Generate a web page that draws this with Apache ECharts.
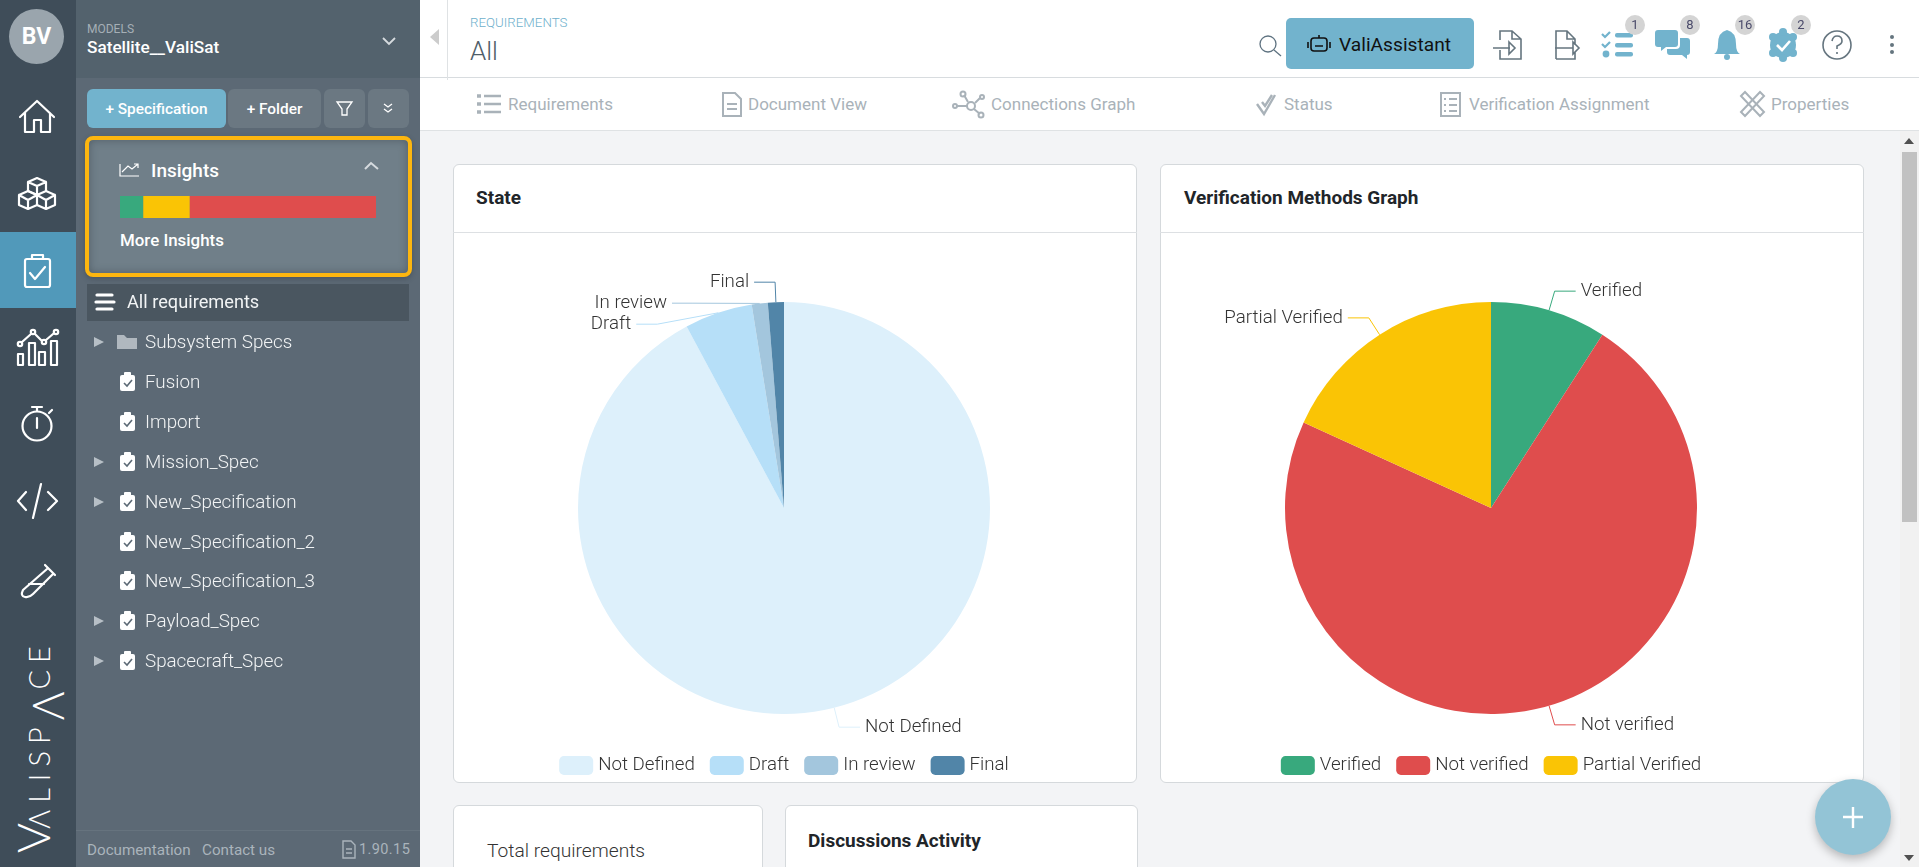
<!DOCTYPE html>
<html>
<head>
<meta charset="utf-8">
<title>Requirements</title>
<script src="https://cdn.jsdelivr.net/npm/echarts@6/dist/echarts.min.js"></script>
<style>
html,body{margin:0;padding:0;width:1919px;height:867px;overflow:hidden;background:#f3f4f6;font-family:Roboto,sans-serif;}
.a{position:absolute;white-space:nowrap;}
.c{display:flex;align-items:center;justify-content:center;}
svg{position:absolute;overflow:visible;fill:none;}
.card{position:absolute;background:#fff;border:1px solid #d5d9dc;border-radius:6px;box-sizing:border-box;}
.tab{position:absolute;top:94px;font-size:17px;line-height:20px;color:#a9b2b9;white-space:nowrap;}
.row{position:absolute;left:145px;font-size:18.8px;line-height:22px;color:#f2f4f5;white-space:nowrap;font-weight:300;}
.badge{position:absolute;top:15px;width:20px;height:20px;border-radius:10px;background:#d4d4d4;color:#4a4a6a;font-size:13px;line-height:20px;text-align:center;}
.title{position:absolute;font-size:19px;line-height:22px;font-weight:700;color:#212529;white-space:nowrap;}
#logo span{line-height:0;}
</style>
</head>
<body>
<!-- left rail -->
<div class="a" style="left:0;top:0;width:76px;height:867px;background:#3f4d59"></div>
<div class="a" style="left:0;top:232px;width:76px;height:76px;background:#5199ba"></div>
<div class="a c" style="left:9px;top:9px;width:55px;height:55px;border-radius:50%;background:#9aa5ad;color:#fff;font-weight:700;font-size:23px">BV</div>
<svg style="left:0;top:0" width="76" height="620" stroke="#fff" stroke-width="2.2" stroke-linejoin="round" stroke-linecap="round">
  <path d="M20 117 L37 101 L54 117 M25 113 V132 H34 V120 H41 V132 H50 V113"/>
  <path d="M37 178 L46 182 V191 L37 195 L28 191 V182 Z M28 182 L37 186 L46 182 M37 186 V195"/>
  <path d="M28 191 L37 195 V205 L28 209 L19 205 V195 Z M19 195 L28 200 L37 195 M28 200 V209"/>
  <path d="M46 191 L55 195 V205 L46 209 L37 205 M37 195 L46 200 L55 195 M46 200 V209"/>
  <rect x="25" y="259" width="25" height="28" rx="2"/><path d="M32 259 V255 H43 V259 M30 273 L35 279 L45 267"/>
  <path d="M18 354 H23 V365 H18 Z M29 343 H35 V365 H29 Z M39 352 H45 V365 H39 Z M51 341 H57 V365 H51 Z"/>
  <path d="M22 342 L31 334 M35 334 L41 340 M46 340 L53 334"/>
  <circle cx="20" cy="344" r="2.2"/><circle cx="33" cy="332" r="2.2"/><circle cx="44" cy="342" r="2.2"/><circle cx="56" cy="332" r="2.2"/>
  <circle cx="37" cy="426" r="14.5"/><path d="M37 418 V428 M32 407 H42 M37 407 V411 M49 413 L52 410"/>
  <path d="M26 492 L18 501 L26 510 M48 492 L57 501 L48 510 M41 484 L33 518"/>
  <path d="M45 565 L55 575 M47 569 L23 590 Q20 596 25 597 Q29 598 33 594 L53 574 M29 584 L44 584"/>
</svg>
<div class="a" id="logo" style="left:9px;top:853px;height:60px;line-height:60px;transform-origin:0 0;transform:rotate(-90deg);color:#fff;font-family:Lato,sans-serif;font-weight:300;font-size:29px;letter-spacing:7px"><span style="font-size:46px;letter-spacing:-6px">V</span><span>Λ</span>LISP<span style="font-size:44px;vertical-align:-14px;letter-spacing:2px">Λ</span>CE</div>

<!-- model panel -->
<div class="a" style="left:76px;top:0;width:344px;height:867px;background:#5c6975"></div>
<div class="a" style="left:76px;top:0;width:344px;height:78px;background:#53626d"></div>
<div class="a" style="left:87px;top:22px;font-size:12px;color:#a5afb6">MODELS</div>
<div class="a" style="left:87px;top:37px;font-size:17.2px;font-weight:500;color:#fff">Satellite__ValiSat</div>
<svg style="left:0;top:0" stroke="#d6dbdf" stroke-width="1.8"><path d="M383 38 L389 44 L395 38"/></svg>
<div class="a c" style="left:87px;top:89px;width:139px;height:39px;background:#72b3cd;border-radius:6px;color:#fff;font-size:15.4px;font-weight:500">+ Specification</div>
<div class="a c" style="left:228px;top:89px;width:93px;height:39px;background:#6b7882;border-radius:6px;color:#fff;font-size:15.4px;font-weight:500">+ Folder</div>
<div class="a" style="left:324px;top:89px;width:41px;height:39px;background:#6b7882;border-radius:6px"></div>
<div class="a" style="left:368px;top:89px;width:41px;height:39px;background:#6b7882;border-radius:6px"></div>
<svg style="left:0;top:0" stroke="#fff" stroke-width="1.3"><path d="M337 102 H352 L347 109 V115 L342 115 V109 Z"/><path d="M384 104 L388 107 L392 104 M384 109 L388 112 L392 109"/></svg>
<!-- insights box -->
<div class="a" style="left:85px;top:136px;width:327px;height:141px;box-sizing:border-box;border:4px solid #fdb60f;border-radius:8px;background:#707f89;box-shadow:inset 0 0 8px rgba(50,60,70,.5),0 2px 5px rgba(40,50,60,.35)"></div>
<svg style="left:0;top:0" stroke="#fff" stroke-width="1.2"><path d="M120 164 V176 H139 M122 172 L128 166 L132 169 L138 164 M134 164 H138 V168"/><path d="M365 169 L371 163 L378 169" stroke-width="2" stroke="#d6dbdf"/></svg>
<div class="a" style="left:151px;top:160px;font-size:19px;line-height:22px;font-weight:500;color:#fff">Insights</div>
<div class="a" id="insightBar" style="left:120px;top:196px;width:256px;height:22px"></div>
<div class="a" style="left:120px;top:231px;font-size:16.9px;line-height:19px;font-weight:500;color:#fff">More Insights</div>
<!-- tree -->
<div class="a" style="left:87px;top:284px;width:322px;height:37px;background:#4a5660"></div>
<svg style="left:0;top:0" stroke="#fff" stroke-width="3.2" stroke-linecap="round"><path d="M97 295 H112 M96 302 H114 M97 309 H112"/></svg>
<div class="row" style="left:127px;top:291px;font-weight:400;font-size:18.2px">All requirements</div>
<div id="tree"></div>
<div class="a" style="left:76px;top:830px;width:344px;height:1px;background:#66737e"></div>
<div class="a" style="left:87px;top:841px;font-size:15.2px;color:#aab4bc">Documentation</div>
<div class="a" style="left:202px;top:841px;font-size:15.2px;color:#aab4bc">Contact us</div>
<svg style="left:0;top:0" stroke="#aab4bc" stroke-width="1.4"><path d="M343 841 H351 L355 845 V858 H343 Z M346 849 H352 M346 853 H352"/></svg>
<div class="a" style="left:359px;top:841px;font-size:14.5px;letter-spacing:.4px;color:#aab4bc">1.90.15</div>

<!-- top bar -->
<div class="a" style="left:420px;top:0;width:1499px;height:130px;background:#fff"></div>
<div class="a" style="left:420px;top:77px;width:1499px;height:1px;background:#d8dcdf"></div>
<div class="a" style="left:420px;top:130px;width:1499px;height:1px;background:#dfe2e4"></div>
<div class="a" style="left:447px;top:0;width:1px;height:80px;background:#dfe2e4"></div>
<svg style="left:0;top:0"><path d="M439 29 V45 L430 37 Z" fill="#cccccc"/></svg>
<div class="a" style="left:470px;top:15px;font-size:13.3px;font-weight:300;color:#6eb0cc">REQUIREMENTS</div>
<div class="a" style="left:470px;top:36px;font-size:26px;font-weight:300;color:#4f5d69">All</div>
<div class="tab" style="left:508px">Requirements</div>
<div class="tab" style="left:748px">Document View</div>
<div class="tab" style="left:991px">Connections Graph</div>
<div class="tab" style="left:1284px">Status</div>
<div class="tab" style="left:1469px">Verification Assignment</div>
<div class="tab" style="left:1771px">Properties</div>
<svg style="left:0;top:0" stroke="#a9b2b9" stroke-width="2"><path d="M484 96 H501 M484 104 H501 M484 112 H501" stroke-width="2.6"/><path d="M477 96 H481 M477 104 H481 M477 112 H481" stroke-width="3.4"/>
  <path d="M723 93 H735 L741 99 V116 H723 Z M727 104 H737 M727 109 H737"/>
  <circle cx="971" cy="106" r="4"/><path d="M974 109 L980 114 M968 102 L964 95 M975 103 L980 98 M967 106 L957 106"/><circle cx="963" cy="94" r="2.5"/><circle cx="982" cy="97" r="2"/><circle cx="955" cy="106" r="2"/><circle cx="981" cy="115" r="2.5"/>
  <path d="M1257 104 L1264 114 L1275 95 M1262 102 L1265 106 L1272 95" stroke-width="2.4"/>
  <rect x="1441" y="93" width="19" height="23"/><path d="M1444 99 H1446 M1449 99 H1457 M1444 105 H1446 M1449 105 H1457 M1444 111 H1446 M1449 111 H1457"/>
  <path d="M1741 96 L1745 92 L1764 112 L1760 116 Z M1764 96 L1760 92 L1741 112 L1745 116 Z"/></svg>
<svg style="left:0;top:0" stroke="#5e7280" stroke-width="1.3"><circle cx="1268" cy="44" r="8"/><path d="M1274 50 L1281 56"/></svg>
<div class="a" style="left:1286px;top:18px;width:188px;height:51px;background:#72b3cd;border-radius:5px"></div>
<svg style="left:0;top:0" stroke="#111" stroke-width="1.6"><rect x="1311" y="38" width="16" height="13" rx="3"/><path d="M1319 38 V35 M1308 42 V48 M1330 42 V48 M1315 46 H1323"/></svg>
<div class="a" style="left:1339px;top:33px;font-size:19.2px;color:#111">ValiAssistant</div>
<svg style="left:0;top:0" stroke="#65757f" stroke-width="1.6">
  <path d="M1500 40 V31 H1512 L1521 39 V59 H1500 V50 M1512 31 V39 H1521 M1493 48 H1510 M1509 42 L1515 48 L1509 54 Z"/>
  <path d="M1556 59 V31 H1567 L1575 39 V45 M1567 31 V39 H1575 M1575 52 V59 H1556 M1555 48 H1573 M1573 42 L1579 48 L1573 54 Z"/>
  <circle cx="1837" cy="45" r="14"/><path d="M1832 41 Q1833 36 1837 36 Q1842 36 1842 41 Q1842 44 1837 46 V49 M1837 52 V54"/>
</svg>
<svg style="left:0;top:0;fill:#72b3cd">
  <path d="M1602 34 L1605 37 L1610 32 M1602 44 L1605 47 L1610 42" stroke="#72b3cd" stroke-width="2.2" fill="none"/><circle cx="1606" cy="54" r="3.4"/>
  <rect x="1615" y="33" width="18" height="4.5" rx="2"/><rect x="1615" y="43" width="18" height="4.5" rx="2"/><rect x="1615" y="52" width="18" height="4.5" rx="2"/>
  <path d="M1658 30 H1675 Q1678 30 1678 33 V44 Q1678 47 1675 47 H1666 L1661 51 V47 H1658 Q1655 47 1655 44 V33 Q1655 30 1658 30 Z"/>
  <path d="M1680 38 H1687 Q1690 38 1690 41 V52 Q1690 55 1687 55 V59 L1682 55 H1670 Q1667 55 1667 52 V49 H1676 Q1680 49 1680 45 Z"/>
  <path d="M1727 30 Q1736 32 1736 44 Q1736 52 1740 54 H1714 Q1718 52 1718 44 Q1718 32 1727 30 Z"/><circle cx="1727" cy="57" r="3"/>
  <circle cx="1783" cy="45" r="13"/><circle cx="1773" cy="37" r="4"/><circle cx="1793" cy="37" r="4"/><circle cx="1773" cy="53" r="4"/><circle cx="1793" cy="53" r="4"/><circle cx="1783" cy="32" r="4"/><circle cx="1783" cy="58" r="4"/>
  <path d="M1777 45 L1782 50 L1790 41" stroke="#fff" stroke-width="2.6" fill="none"/>
  <circle cx="1892" cy="37" r="2" fill="#65757f"/><circle cx="1892" cy="45" r="2" fill="#65757f"/><circle cx="1892" cy="52" r="2" fill="#65757f"/>
</svg>
<div class="badge" style="left:1625px">1</div>
<div class="badge" style="left:1680px">8</div>
<div class="badge" style="left:1735px">16</div>
<div class="badge" style="left:1791px">2</div>

<!-- cards -->
<div class="card" style="left:453px;top:164px;width:684px;height:619px"></div>
<div class="a" style="left:453px;top:232px;width:684px;height:1px;background:#dde0e3"></div>
<div class="title" style="left:476px;top:187px">State</div>
<div class="a" id="stateChart" style="left:454px;top:233px;width:660px;height:550px"></div>

<div class="card" style="left:1160px;top:164px;width:704px;height:619px"></div>
<div class="a" style="left:1160px;top:232px;width:704px;height:1px;background:#dde0e3"></div>
<div class="title" style="left:1184px;top:187px">Verification Methods Graph</div>
<div class="a" id="verificationChart" style="left:1161px;top:233px;width:660px;height:550px"></div>

<div class="card" style="left:453px;top:805px;width:310px;height:100px"></div>
<div class="a" style="left:487px;top:840px;font-size:19.2px;line-height:22px;font-weight:300;color:#333">Total requirements</div>
<div class="card" style="left:785px;top:805px;width:353px;height:100px"></div>
<div class="title" style="left:808px;top:830px">Discussions Activity</div>

<!-- scrollbar and add button -->
<div class="a" style="left:1900px;top:131px;width:19px;height:736px;background:#f1f1f1"></div>
<div class="a" style="left:1902px;top:152px;width:15px;height:370px;background:#c1c1c1"></div>
<svg style="left:0;top:0"><path d="M1904 144 H1914 L1909 138 Z M1904 855 H1914 L1909 861 Z" fill="#505050"/></svg>
<div class="a" style="left:1815px;top:779px;width:76px;height:76px;border-radius:50%;background:#93c4d6;box-shadow:0 4px 10px rgba(0,0,0,.25)"></div>
<svg style="left:0;top:0" stroke="#fff" stroke-width="2.4"><path d="M1853 807 V828 M1843 817 H1863"/></svg>

<script>
var stateNames = ["Not Defined", "Draft", "In review", "Final"];
var stateValues = [294, 17, 4, 4];
var stateColors = ["#ddf0fb", "#b6dff8", "#a3c6dd", "#5185a8"];

var verificationNames = ["Verified", "Not verified", "Partial Verified"];
var verificationValues = [1, 8, 2];
var verificationColors = ["#38a97d", "#df4d4d", "#fac405"];

var insightOrder = [0, 2, 1];

var treeNames = ["Subsystem Specs", "Fusion", "Import", "Mission_Spec", "New_Specification", "New_Specification_2", "New_Specification_3", "Payload_Spec", "Spacecraft_Spec"];
var treeArrows = [1, 0, 0, 1, 1, 0, 0, 1, 1];

// tree rows
var treeHtml = "";
for (var i = 0; i < treeNames.length; i++) {
    var y = 342 + i * 39.9;
    treeHtml += '<div class="row" style="top:' + (y - 11) + 'px">' + treeNames[i] + '</div>';
    var s = '<svg style="left:0;top:' + y + 'px">';
    if (treeArrows[i]) s += '<path d="M94 -5 L104 0 L94 5 Z" fill="#b7bfc6"/>';
    if (i == 0) {
        s += '<path d="M117 -7 H124 L127 -4 H137 V7 H117 Z" fill="#b0b8bf"/>';
    } else {
        s += '<rect x="120" y="-7" width="15" height="16" rx="2" fill="#fff"/><rect x="124" y="-10" width="7" height="4" rx="1" fill="#fff"/><path d="M124 1 L127 4 L132 -2" stroke="#5c6975" stroke-width="1.6"/>';
    }
    treeHtml += s + '</svg>';
}
document.getElementById("tree").innerHTML = treeHtml;

function makePie(id, names, values, colors) {
    var chart = echarts.init(document.getElementById(id));
    var data = [];
    for (var i = 0; i < names.length; i++) {
        data.push({ name: names[i], value: values[i] });
    }
    chart.setOption({
        animation: false,
        color: colors,
        legend: {
            data: names,
            bottom: 3,
            itemWidth: 34,
            itemHeight: 19,
            itemGap: 15,
            textStyle: { fontFamily: "Roboto", fontSize: 18.7, fontWeight: 300, color: "#333" }
        },
        series: [{
            type: "pie",
            radius: 206,
            center: ["50%", "50%"],
            data: data,
            label: { fontFamily: "Roboto", fontSize: 18.7, fontWeight: 300, color: "#333" },
            labelLine: { length: 20, length2: 21, smooth: false }
        }]
    });
}

makePie("stateChart", stateNames, stateValues, stateColors);
makePie("verificationChart", verificationNames, verificationValues, verificationColors);

// small stacked bar in the insights box
var insightChart = echarts.init(document.getElementById("insightBar"));
var insightSeries = [];
for (var k = 0; k < insightOrder.length; k++) {
    var idx = insightOrder[k];
    insightSeries.push({
        type: "bar",
        stack: "all",
        barWidth: "100%",
        data: [verificationValues[idx]],
        itemStyle: { color: verificationColors[idx] }
    });
}
insightChart.setOption({
    animation: false,
    grid: { left: 0, right: 0, top: 0, bottom: 0 },
    xAxis: { type: "value", show: false, min: 0, max: 11 },
    yAxis: { type: "category", show: false, data: ["all"] },
    series: insightSeries
});
</script>
</body>
</html>
